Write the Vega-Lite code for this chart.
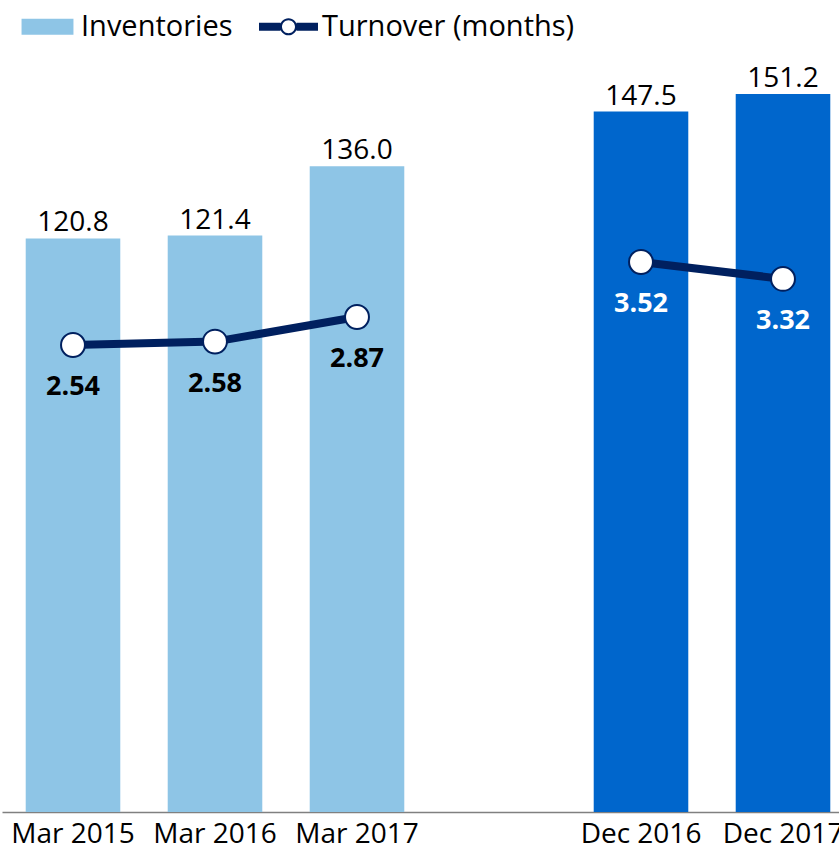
{
  "$schema": "https://vega.github.io/schema/vega-lite/v6.json",
  "width": 839,
  "height": 812,
  "autosize": {"type": "none"},
  "padding": {"left": 0, "top": 0, "right": 0, "bottom": 37},
  "background": "white",
  "config": {"view": {"stroke": null}, "font": "Open Sans"},
  "data": {
    "values": [
      {"period": "Mar 2015", "group": "Mar", "inventories": 120.8, "turnover": 2.54},
      {"period": "Mar 2016", "group": "Mar", "inventories": 121.4, "turnover": 2.58},
      {"period": "Mar 2017", "group": "Mar", "inventories": 136.0, "turnover": 2.87},
      {"period": "Dec 2016", "group": "Dec", "inventories": 147.5, "turnover": 3.52},
      {"period": "Dec 2017", "group": "Dec", "inventories": 151.2, "turnover": 3.32}
    ]
  },
  "encoding": {
    "x": {
      "field": "period",
      "type": "nominal",
      "sort": null,
      "scale": {
        "domain": ["Mar 2015", "Mar 2016", "Mar 2017", " ", "Dec 2016", "Dec 2017"],
        "range": [2, 854],
        "paddingInner": 0.334,
        "paddingOuter": 0.167
      },
      "axis": {
        "title": null,
        "ticks": false,
        "labelAngle": 0,
        "labelFont": "Open Sans",
        "labelFontSize": 28,
        "labelColor": "black",
        "labelPadding": 8,
        "labelOverlap": false,
        "domainColor": "#808080",
        "domainWidth": 1.5,
        "grid": false
      }
    }
  },
  "layer": [
    {
      "mark": {"type": "bar"},
      "encoding": {
        "y": {"field": "inventories", "type": "quantitative", "scale": {"domain": [0, 171]}, "axis": null},
        "color": {
          "datum": "Inventories",
          "condition": {"test": "datum.group === 'Dec'", "value": "#0066CC"},
          "scale": {"domain": ["Inventories", "Turnover (months)"], "range": ["#8EC5E6", "#00205F"]},
          "legend": {
            "title": null,
            "orient": "none",
            "direction": "horizontal",
            "legendX": 18,
            "legendY": -3,
            "padding": 0,
            "columnPadding": 26,
            "labelOffset": 4,
            "labelFont": "Open Sans",
            "labelFontSize": 29,
            "labelColor": "black",
            "labelLimit": 400,
            "symbolSize": 3481,
            "encode": {
              "symbols": {
                "update": {
                  "shape": {"signal": "datum.value === 'Inventories' ? 'M-0.88,-0.27H0.88V0.27H-0.88Z' : 'M-1,-0.135H-0.27V0.135H-1Z M0.27,-0.135H1V0.135H0.27Z M0.29,0A0.29,0.29 0 1 1 -0.29,0A0.29,0.29 0 1 1 0.29,0Z M0.22,0A0.22,0.22 0 1 0 -0.22,0A0.22,0.22 0 1 0 0.22,0Z'"},
                  "fill": {"signal": "datum.value === 'Inventories' ? '#8EC5E6' : '#00205F'"},
                  "stroke": {"value": "transparent"},
                  "strokeWidth": {"value": 0},
                  "opacity": {"value": 1},
                  "size": {"value": 3481}
                }
              }
            }
          }
        }
      }
    },
    {
      "mark": {"type": "text", "baseline": "alphabetic", "dy": -7, "fontSize": 28, "font": "Open Sans", "color": "black"},
      "encoding": {
        "y": {"field": "inventories", "type": "quantitative", "scale": {"domain": [0, 171]}, "axis": null},
        "text": {"field": "inventories", "type": "quantitative", "format": ".1f"}
      }
    },
    {
      "mark": {"type": "line", "strokeWidth": 8},
      "encoding": {
        "y": {"field": "turnover", "type": "quantitative", "scale": {"domain": [-2.974, 6.613]}, "axis": null},
        "detail": {"field": "group"},
        "color": {"datum": "Turnover (months)"}
      }
    },
    {
      "mark": {"type": "point", "filled": true, "fill": "white", "stroke": "#00205F", "strokeWidth": 2, "size": 572, "opacity": 1},
      "encoding": {
        "y": {"field": "turnover", "type": "quantitative", "scale": {"domain": [-2.974, 6.613]}, "axis": null}
      }
    },
    {
      "mark": {"type": "text", "baseline": "middle", "dy": 42, "fontSize": 27, "fontWeight": "bold", "font": "Open Sans"},
      "encoding": {
        "y": {"field": "turnover", "type": "quantitative", "scale": {"domain": [-2.974, 6.613]}, "axis": null},
        "text": {"field": "turnover", "type": "quantitative", "format": ".2f"},
        "color": {"condition": {"test": "datum.group === 'Dec'", "value": "white"}, "value": "black"}
      }
    }
  ],
  "resolve": {"scale": {"y": "independent"}}
}
